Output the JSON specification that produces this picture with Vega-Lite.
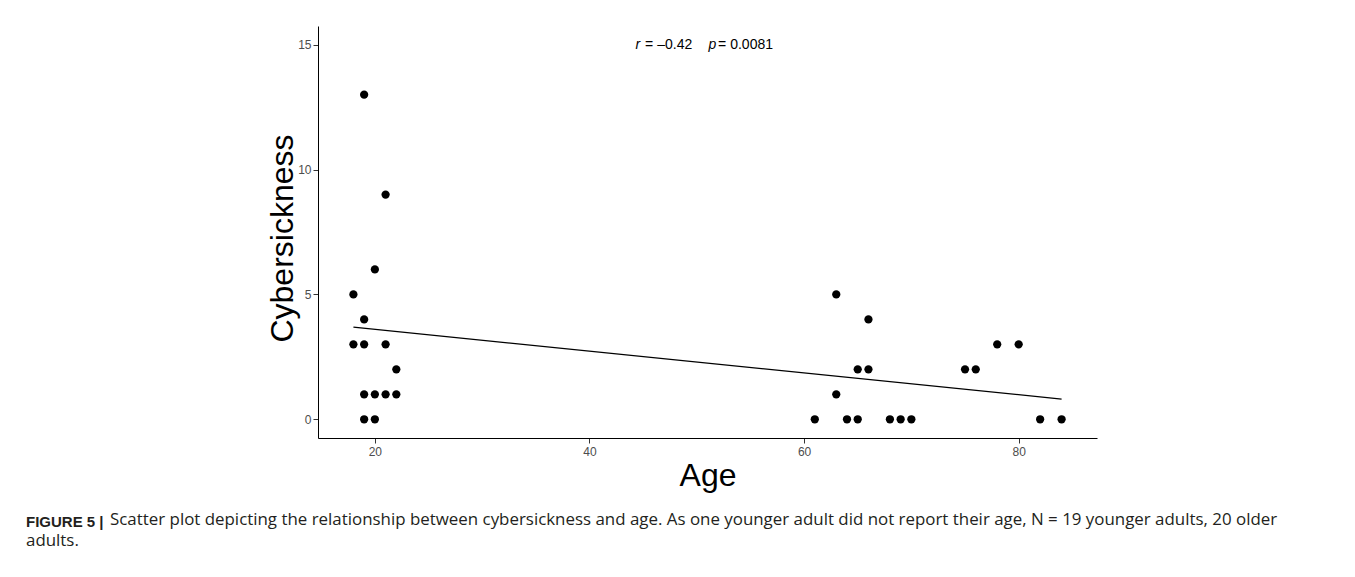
{
  "$schema": "https://vega.github.io/schema/vega-lite/v6.json",
  "autosize": {"type": "pad"},
  "padding": {"left": 26, "top": 26, "right": 5, "bottom": 5},
  "background": "white",
  "bounds": "flush",
  "config": {
    "view": {"stroke": null},
    "font": "Liberation Sans"
  },
  "title": {
    "text": "Scatter plot depicting the relationship between cybersickness and age. As one younger adult did not report their age, N = 19 younger adults, 20 older",
    "orient": "bottom",
    "anchor": "start",
    "frame": "group",
    "dx": -208,
    "offset": -37,
    "font": "Open Sans",
    "fontSize": 16.9,
    "fontWeight": "normal",
    "color": "#231f20"
  },
  "datasets": {
    "points": [
      {"age": 19, "cybersickness": 13},
      {"age": 21, "cybersickness": 9},
      {"age": 20, "cybersickness": 6},
      {"age": 18, "cybersickness": 5},
      {"age": 19, "cybersickness": 4},
      {"age": 18, "cybersickness": 3},
      {"age": 19, "cybersickness": 3},
      {"age": 21, "cybersickness": 3},
      {"age": 22, "cybersickness": 2},
      {"age": 19, "cybersickness": 1},
      {"age": 20, "cybersickness": 1},
      {"age": 21, "cybersickness": 1},
      {"age": 22, "cybersickness": 1},
      {"age": 19, "cybersickness": 0},
      {"age": 20, "cybersickness": 0},
      {"age": 63, "cybersickness": 5},
      {"age": 66, "cybersickness": 4},
      {"age": 78, "cybersickness": 3},
      {"age": 80, "cybersickness": 3},
      {"age": 65, "cybersickness": 2},
      {"age": 66, "cybersickness": 2},
      {"age": 75, "cybersickness": 2},
      {"age": 76, "cybersickness": 2},
      {"age": 63, "cybersickness": 1},
      {"age": 61, "cybersickness": 0},
      {"age": 64, "cybersickness": 0},
      {"age": 65, "cybersickness": 0},
      {"age": 68, "cybersickness": 0},
      {"age": 69, "cybersickness": 0},
      {"age": 70, "cybersickness": 0},
      {"age": 82, "cybersickness": 0},
      {"age": 84, "cybersickness": 0}
    ],
    "fit": [
      {"age": 18, "cybersickness": 3.69},
      {"age": 84, "cybersickness": 0.81}
    ],
    "annotation": [
      {"age": 44.3, "cybersickness": 15, "r": "r", "rval": "= \u20130.42", "p": "p", "pval": "= 0.0081"}
    ]
  },
  "vconcat": [
    {
      "width": 779,
      "height": 412,
      "title": {
        "text": "FIGURE 5 |",
        "subtitle": "adults.",
        "orient": "bottom",
        "anchor": "start",
        "frame": "group",
        "dx": -292,
        "offset": 24,
        "font": "Liberation Sans",
        "fontSize": 15,
        "fontWeight": "bold",
        "color": "#231f20",
        "subtitleFont": "Open Sans",
        "subtitleFontSize": 16.9,
        "subtitleColor": "#231f20",
        "subtitlePadding": 3
      },
      "encoding": {
        "x": {
          "field": "age",
          "type": "quantitative",
          "scale": {"domain": [14.7, 87.3], "nice": false, "zero": false},
          "axis": {
            "values": [20, 40, 60, 80],
            "grid": false,
            "domainColor": "#000000",
            "domainWidth": 1,
            "tickColor": "#333333",
            "tickSize": 5,
            "labelColor": "#4d4d4d",
            "labelFontSize": 12,
            "labelPadding": 3,
            "title": "Age",
            "titleFontSize": 32,
            "titleFontWeight": "normal",
            "titleColor": "#000000",
            "titleY": 47,
            "titleBaseline": "alphabetic"
          }
        },
        "y": {
          "field": "cybersickness",
          "type": "quantitative",
          "scale": {"domain": [-0.75, 15.75], "nice": false, "zero": false},
          "axis": {
            "values": [0, 5, 10, 15],
            "grid": false,
            "domainColor": "#000000",
            "domainWidth": 1,
            "tickColor": "#333333",
            "tickSize": 5,
            "labelColor": "#4d4d4d",
            "labelFontSize": 12,
            "labelPadding": 2,
            "title": "Cybersickness",
            "titleFontSize": 32,
            "titleFontWeight": "normal",
            "titleColor": "#000000",
            "titleAngle": 270,
            "titleX": -26,
            "titleY": 212,
            "titleAlign": "center",
            "titleBaseline": "alphabetic"
          }
        }
      },
      "layer": [
        {
          "data": {"name": "fit"},
          "mark": {"type": "line", "color": "#000000", "strokeWidth": 1.2}
        },
        {
          "data": {"name": "points"},
          "mark": {"type": "circle", "color": "#000000", "opacity": 1, "size": 68}
        },
        {
          "data": {"name": "annotation"},
          "mark": {"type": "text", "align": "left", "baseline": "alphabetic", "dy": 4, "fontSize": 14, "fontStyle": "italic", "color": "#000000"},
          "encoding": {"text": {"field": "r"}}
        },
        {
          "data": {"name": "annotation"},
          "mark": {"type": "text", "align": "left", "baseline": "alphabetic", "dx": 9.5, "dy": 4, "fontSize": 14, "color": "#000000"},
          "encoding": {"text": {"field": "rval"}}
        },
        {
          "data": {"name": "annotation"},
          "mark": {"type": "text", "align": "left", "baseline": "alphabetic", "dx": 73, "dy": 4, "fontSize": 14, "fontStyle": "italic", "color": "#000000"},
          "encoding": {"text": {"field": "p"}}
        },
        {
          "data": {"name": "annotation"},
          "mark": {"type": "text", "align": "left", "baseline": "alphabetic", "dx": 82.5, "dy": 4, "fontSize": 14, "color": "#000000"},
          "encoding": {"text": {"field": "pval"}}
        }
      ]
    }
  ]
}
